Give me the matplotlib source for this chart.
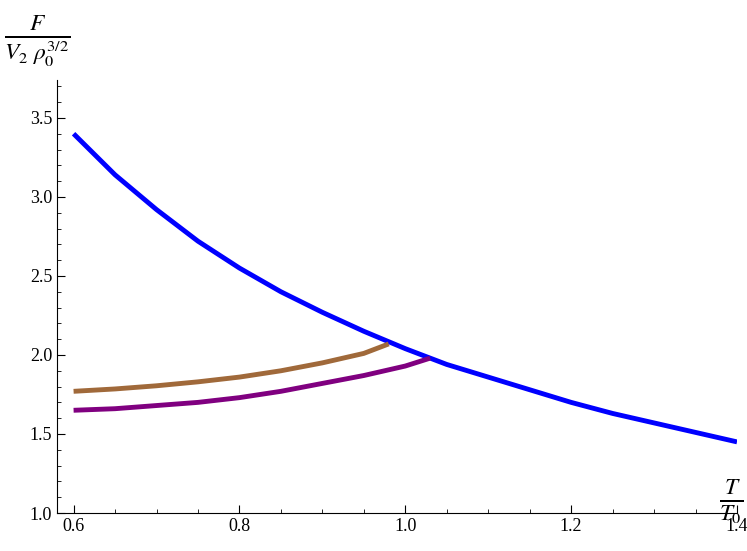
import matplotlib
matplotlib.use("Agg")
import matplotlib.pyplot as plt
from matplotlib.ticker import MultipleLocator

plt.rcParams["font.family"] = "Liberation Serif"
plt.rcParams["mathtext.fontset"] = "stix"

blue_T = [0.6, 0.65, 0.7, 0.75, 0.8, 0.85, 0.9, 0.95, 1.0, 1.05, 1.1, 1.15, 1.2, 1.25, 1.3, 1.35, 1.4]
blue_F = [3.40, 3.14, 2.92, 2.72, 2.55, 2.40, 2.27, 2.15, 2.04, 1.94, 1.86, 1.78, 1.70, 1.63, 1.57, 1.51, 1.45]
brown_T = [0.6, 0.65, 0.7, 0.75, 0.8, 0.85, 0.9, 0.95, 0.98]
brown_F = [1.77, 1.785, 1.805, 1.83, 1.86, 1.90, 1.95, 2.01, 2.07]
purple_T = [0.6, 0.65, 0.7, 0.75, 0.8, 0.85, 0.9, 0.95, 1.0, 1.03]
purple_F = [1.65, 1.66, 1.68, 1.70, 1.73, 1.77, 1.82, 1.87, 1.93, 1.98]

fig = plt.figure(figsize=(7.47, 5.51), dpi=100)
ax = fig.add_axes([57/747, 38/551, (737-57)/747, (513-80)/551])
ax.plot(blue_T, blue_F, color="#0000ff", lw=3.5, solid_capstyle="butt")
ax.plot(brown_T, brown_F, color="#a0693a", lw=3.5, solid_capstyle="butt")
ax.plot(purple_T, purple_F, color="#800080", lw=3.5, solid_capstyle="butt")
ax.set_xlim(0.58, 1.4)
ax.set_ylim(1.0, 3.74)
for s in ["top", "right"]:
    ax.spines[s].set_visible(False)
ax.xaxis.set_major_locator(MultipleLocator(0.2))
ax.xaxis.set_minor_locator(MultipleLocator(0.05))
ax.yaxis.set_major_locator(MultipleLocator(0.5))
ax.yaxis.set_minor_locator(MultipleLocator(0.1))
ax.tick_params(which="major", direction="in", length=6, labelsize=13)
ax.tick_params(which="minor", direction="in", length=3)
ax.set_xticks([0.6, 0.8, 1.0, 1.2, 1.4])
ax.set_xticklabels(["0.6", "0.8", "1.0", "1.2", "1.4"])
ax.set_yticks([1.0, 1.5, 2.0, 2.5, 3.0, 3.5])
ax.set_yticklabels(["1.0", "1.5", "2.0", "2.5", "3.0", "3.5"])
fig.text(0.005, 0.925, r"$\frac{F}{V_2\ \rho_0^{3/2}}$", fontsize=24, ha="left", va="center")
fig.text(0.995, 0.09, r"$\frac{T}{T_0}$", fontsize=24, ha="right", va="center")
fig.savefig("out.png", dpi=100)
